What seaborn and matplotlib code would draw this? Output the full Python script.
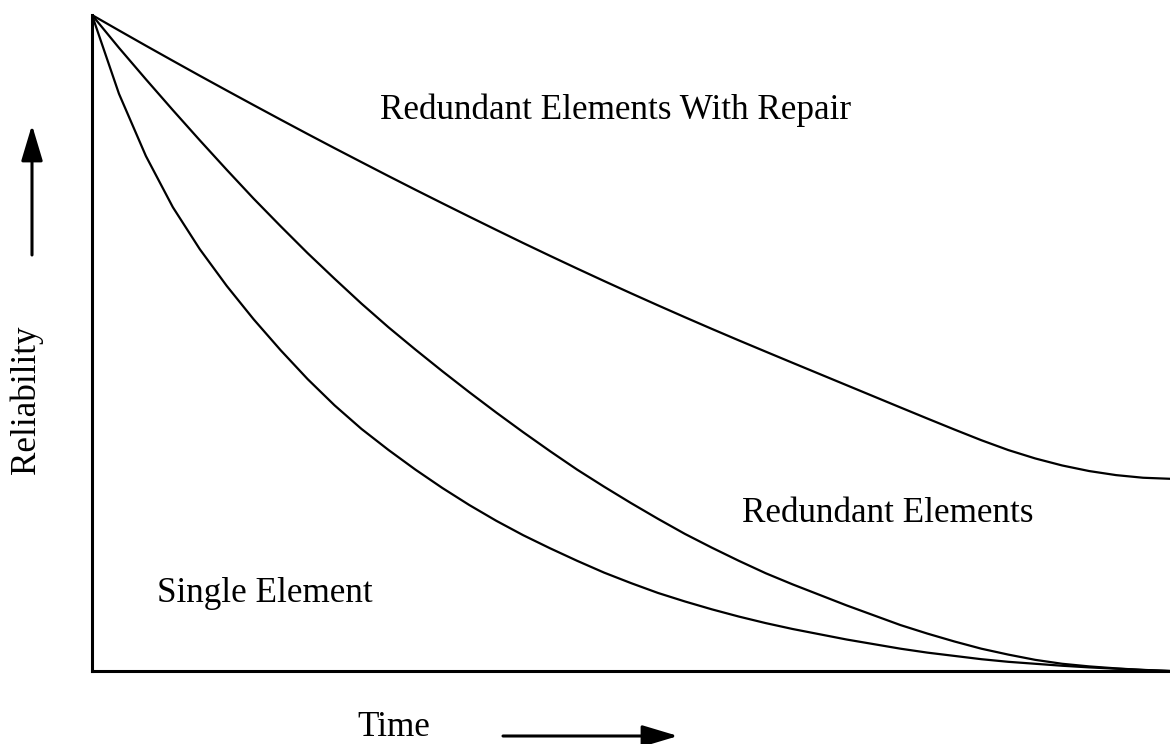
import numpy as np
import pandas as pd
import matplotlib
matplotlib.use("Agg")
import matplotlib.pyplot as plt
from matplotlib.patches import FancyArrowPatch
import seaborn as sns

# Time axis (arbitrary units) and reliability of each configuration
time = [0.0, 0.25, 0.5, 0.75, 1.0, 1.25, 1.5, 1.75, 2.0, 2.25, 2.5, 2.75, 3.0, 3.25,
        3.5, 3.75, 4.0, 4.25, 4.5, 4.75, 5.0, 5.25, 5.5, 5.75, 6.0, 6.25, 6.5, 6.75,
        7.0, 7.25, 7.5, 7.75, 8.0, 8.25, 8.5, 8.75, 9.0, 9.25, 9.5, 9.75, 10.0]

single_element = [1.0, 0.880, 0.785, 0.707, 0.643, 0.587, 0.536, 0.489, 0.445, 0.405,
                  0.369, 0.337, 0.307, 0.279, 0.253, 0.229, 0.207, 0.187, 0.168, 0.150,
                  0.134, 0.119, 0.106, 0.094, 0.083, 0.073, 0.064, 0.056, 0.048, 0.041,
                  0.034, 0.028, 0.023, 0.018, 0.014, 0.011, 0.008, 0.0055, 0.0035, 0.0017, 0.0]

redundant_elements = [1.0, 0.950, 0.902, 0.855, 0.809, 0.764, 0.720, 0.678, 0.637, 0.598,
                      0.560, 0.524, 0.490, 0.457, 0.425, 0.394, 0.364, 0.335, 0.307, 0.281,
                      0.256, 0.232, 0.209, 0.188, 0.168, 0.149, 0.132, 0.116, 0.100, 0.085,
                      0.070, 0.057, 0.045, 0.034, 0.025, 0.017, 0.011, 0.007, 0.004, 0.0015, 0.0]

redundant_with_repair = [1.0, 0.9765, 0.9532, 0.9302, 0.9074, 0.8849, 0.8626, 0.8405, 0.8186,
                         0.7970, 0.7757, 0.7545, 0.7336, 0.7130, 0.6926, 0.6724, 0.6524,
                         0.6328, 0.6135, 0.5945, 0.5758, 0.5574, 0.5393, 0.5215, 0.5040,
                         0.4868, 0.4697, 0.4527, 0.4357, 0.4187, 0.4017, 0.3848, 0.3681,
                         0.3518, 0.3368, 0.3240, 0.3133, 0.3048, 0.2986, 0.2946, 0.2930]

series_names = ["Single Element", "Redundant Elements", "Redundant Elements With Repair"]

df = pd.concat([
    pd.DataFrame({"Time": time, "Reliability": vals, "Config": name})
    for name, vals in zip(series_names,
                          [single_element, redundant_elements, redundant_with_repair])
], ignore_index=True)

sns.set_style("white")
plt.rcParams["font.family"] = ["Liberation Serif", "DejaVu Serif"]
plt.rcParams["text.color"] = "black"

W, H = 1170, 744
fig = plt.figure(figsize=(W / 100, H / 100), dpi=100)
ax = fig.add_axes([92 / W, (H - 671) / H, 1078 / W, 656 / H])

sns.lineplot(data=df, x="Time", y="Reliability", hue="Config",
             palette=["black"] * 3, linewidth=1.6, legend=False, ax=ax,
             sort=False, estimator=None)

ax.set_xlim(0, 10)
ax.set_ylim(0, 1)
ax.set_xticks([])
ax.set_yticks([])
ax.set_xlabel("")
ax.set_ylabel("")
for side in ["top", "right"]:
    ax.spines[side].set_visible(False)
for side in ["left", "bottom"]:
    ax.spines[side].set_color("black")
    ax.spines[side].set_linewidth(2.2)

fs = 25.3
ax.text(2.67, 0.841, "Redundant Elements With Repair", fontsize=fs, va="baseline", ha="left")
ax.text(6.03, 0.227, "Redundant Elements", fontsize=fs, va="baseline", ha="left")
ax.text(0.60, 0.105, "Single Element", fontsize=fs, va="baseline", ha="left")

# Axis captions with direction arrows
fig.text(357 / W, 8 / H, "Time", fontsize=fs, va="baseline", ha="left")
fig.text(26 / W, (H - 400) / H, "Reliability", fontsize=fs, rotation=90,
         va="center", ha="center")

arrow = dict(arrowstyle="-|>,head_length=1.1,head_width=0.33",
             color="black", lw=2.2, mutation_scale=20, shrinkA=0, shrinkB=0)
fig.add_artist(FancyArrowPatch((503 / W, (H - 736) / H), (678 / W, (H - 736) / H),
                               transform=fig.transFigure, **arrow))
fig.add_artist(FancyArrowPatch((32 / W, (H - 255) / H), (32 / W, (H - 125) / H),
                               transform=fig.transFigure, **arrow))

fig.savefig("out.png", dpi=100, facecolor="white")
